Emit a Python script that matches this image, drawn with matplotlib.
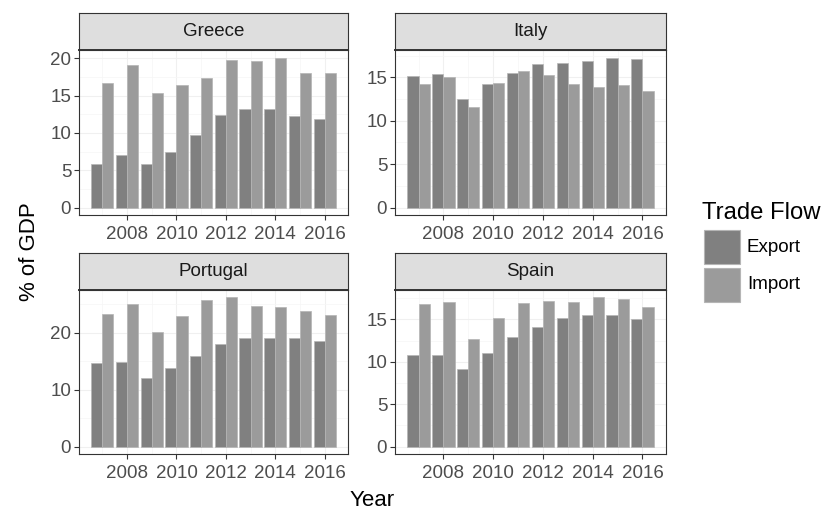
import matplotlib
matplotlib.use("Agg")
import matplotlib.pyplot as plt
from matplotlib.patches import Rectangle
from matplotlib.ticker import MultipleLocator
import numpy as np

plt.rcParams["font.family"] = ["Liberation Sans", "DejaVu Sans"]

# ---- data -------------------------------------------------------------
years = [2007, 2008, 2009, 2010, 2011, 2012, 2013, 2014, 2015, 2016]
countries = ["Greece", "Italy", "Portugal", "Spain"]
flows = ["Export", "Import"]

greece_export = [5.8, 7.1, 5.8, 7.5, 9.7, 12.4, 13.2, 13.2, 12.2, 11.9]
greece_import = [16.7, 19.1, 15.4, 16.4, 17.3, 19.7, 19.6, 20.1, 18.0, 18.0]
italy_export = [15.2, 15.4, 12.5, 14.2, 15.5, 16.5, 16.7, 16.9, 17.3, 17.1]
italy_import = [14.2, 15.0, 11.6, 14.4, 15.7, 15.3, 14.3, 13.9, 14.1, 13.4]
portugal_export = [14.6, 14.9, 12.1, 13.8, 15.9, 18.1, 19.1, 19.1, 19.1, 18.5]
portugal_import = [23.3, 25.1, 20.2, 22.9, 25.8, 26.2, 24.7, 24.5, 23.8, 23.1]
spain_export = [10.8, 10.8, 9.2, 11.0, 12.9, 14.1, 15.2, 15.5, 15.5, 15.1]
spain_import = [16.8, 17.1, 12.7, 15.2, 16.9, 17.2, 17.1, 17.6, 17.4, 16.5]

series = {
    "Greece": (greece_export, greece_import),
    "Italy": (italy_export, italy_import),
    "Portugal": (portugal_export, portugal_import),
    "Spain": (spain_export, spain_import),
}
y_steps = {"Greece": 5, "Italy": 5, "Portugal": 10, "Spain": 5}

# ---- style ------------------------------------------------------------
W, H = 825, 511
colors = {"Export": "#808080", "Import": "#9B9B9B"}
edge = "#B5B5B5"
border = "#333333"
grid_major = "#F0F0F0"
grid_minor = "#F6F6F6"
strip_fill = "#DEDEDE"
tick_text = "#4D4D4D"

# panel boxes in pixels: (left, right, top, bottom), strip height above
boxes = {
    "Greece": (79, 348, 50, 215),
    "Italy": (395, 666, 50, 215),
    "Portugal": (79, 348, 290, 454),
    "Spain": (395, 666, 290, 454),
}
strip_h = 37

fig = plt.figure(figsize=(W / 100, H / 100), dpi=100)
fig.patch.set_facecolor("white")


def fig_rect(l, r, t, b):
    return [l / W, 1 - b / H, (r - l) / W, (b - t) / H]


bar_w = 0.45
x = np.array(years, dtype=float)

for country in countries:
    l, r, t, b = boxes[country]
    ax = fig.add_axes(fig_rect(l, r, t, b))
    exp_vals, imp_vals = series[country]

    ax.bar(x - bar_w / 2, exp_vals, width=bar_w, color=colors["Export"],
           edgecolor=edge, linewidth=0.5, zorder=2)
    ax.bar(x + bar_w / 2, imp_vals, width=bar_w, color=colors["Import"],
           edgecolor=edge, linewidth=0.5, zorder=2)

    # ggplot-style limits: data range expanded by 5% on each side
    x_lo, x_hi = x.min() - 0.45, x.max() + 0.45
    pad = 0.05 * (x_hi - x_lo)
    ax.set_xlim(x_lo - pad, x_hi + pad)
    y_hi = max(max(exp_vals), max(imp_vals))
    ax.set_ylim(-0.05 * y_hi, 1.05 * y_hi)

    ax.xaxis.set_major_locator(MultipleLocator(2))
    ax.xaxis.set_minor_locator(MultipleLocator(1))
    step = y_steps[country]
    ax.yaxis.set_major_locator(MultipleLocator(step))
    ax.yaxis.set_minor_locator(MultipleLocator(step / 2))
    ax.set_xticks([yr for yr in range(2008, 2017, 2)])
    ax.set_xticklabels([str(yr) for yr in range(2008, 2017, 2)])

    ax.grid(True, which="major", color=grid_major, linewidth=0.8, zorder=0)
    ax.grid(True, which="minor", color=grid_minor, linewidth=0.5, zorder=0)
    ax.set_axisbelow(True)

    ax.tick_params(axis="both", which="major", length=3.4, width=0.8,
                   color=border, labelcolor=tick_text, labelsize=13.5)
    ax.tick_params(axis="x", which="major", pad=4.5)
    ax.tick_params(axis="y", which="major", pad=2.2)
    ax.tick_params(which="minor", length=0)
    for s in ax.spines.values():
        s.set_color(border)
        s.set_linewidth(0.8)

    # facet strip
    sax = fig.add_axes(fig_rect(l, r, t - strip_h, t))
    sax.set_facecolor(strip_fill)
    sax.set_xticks([])
    sax.set_yticks([])
    for s in sax.spines.values():
        s.set_color(border)
        s.set_linewidth(0.8)
    sax.spines["bottom"].set_linewidth(1.4)
    sax.text(0.5, 0.5, country, transform=sax.transAxes, ha="center",
             va="center", fontsize=13.5, color="#1A1A1A")

# axis titles
fig.text(372.5 / W, 1 - 506 / H, "Year", ha="center", va="baseline",
         fontsize=16, color="black")
fig.text(35 / W, 1 - 252 / H, "% of GDP", ha="center", va="baseline",
         rotation=90, rotation_mode="anchor", fontsize=16, color="black")

# legend
fig.text(702 / W, 1 - 219 / H, "Trade Flow", ha="left", va="baseline",
         fontsize=17.2, color="black")
key_tops = [230, 267.5]
for flow, kt in zip(flows, key_tops):
    fig.add_artist(Rectangle((704 / W, 1 - (kt + 34) / H), 36 / W, 34 / H,
                             transform=fig.transFigure,
                             facecolor=colors[flow], edgecolor=edge,
                             linewidth=0.8))
    fig.text(747 / W, 1 - (kt + 17) / H, flow, ha="left", va="center",
             fontsize=13.5, color="black")

fig.savefig("out.png", dpi=100, facecolor="white")
